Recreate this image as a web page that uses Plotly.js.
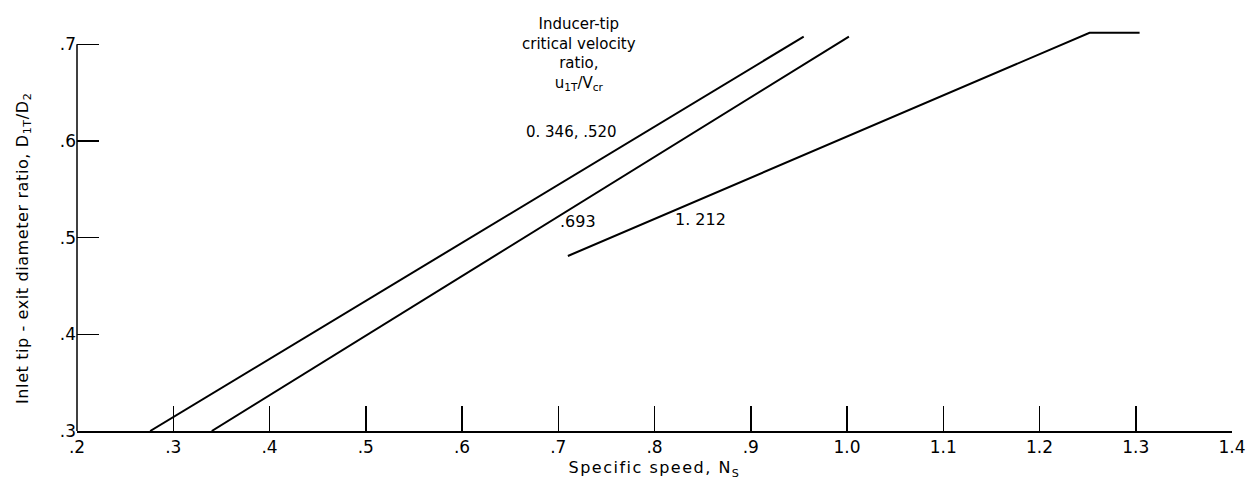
<!DOCTYPE html>
<html>
<head>
<meta charset="utf-8">
<script src="https://cdn.plot.ly/plotly-3.0.1.min.js"></script>
<style>
html,body{margin:0;padding:0;background:#fff;}
#chart{width:1249px;height:483px;}
.xtitle { letter-spacing:1.5px; }
g.annotation[data-index="0"] text { letter-spacing:0.6px; }
</style>
</head>
<body>
<div id="chart"></div>
<script>
// Specific speed (x) and inlet tip-exit diameter ratio (y) for each curve
const ns_346_520 = [0.276, 0.955];
const d_346_520  = [0.300, 0.708];
const ns_693 = [0.340, 1.002];
const d_693  = [0.300, 0.708];
const ns_1212 = [0.710, 1.252, 1.304];
const d_1212  = [0.481, 0.712, 0.712];

const xTickVals = [0.2,0.3,0.4,0.5,0.6,0.7,0.8,0.9,1.0,1.1,1.2,1.3,1.4];
const xTickText = [".2",".3",".4",".5",".6",".7",".8",".9","1.0","1.1","1.2","1.3","1.4"];
const yTickVals = [0.3,0.4,0.5,0.6,0.7];
const yTickText = [".3",".4",".5",".6",".7"];

const FONT = "'DejaVu Sans','Liberation Sans',sans-serif";
const lineStyle = {color:'#000', width:2};

const traces = [
  {x: ns_346_520, y: d_346_520, mode:'lines', line: lineStyle, name:'0.346, .520', hoverinfo:'skip'},
  {x: ns_693, y: d_693, mode:'lines', line: lineStyle, name:'.693', hoverinfo:'skip'},
  {x: ns_1212, y: d_1212, mode:'lines', line: lineStyle, name:'1.212', hoverinfo:'skip'}
];

const layout = {
  width:1249, height:483,
  margin:{l:77, r:17, t:25, b:52},
  paper_bgcolor:'#fff', plot_bgcolor:'#fff',
  showlegend:false,
  font:{family:FONT, size:16, color:'#000'},
  xaxis:{
    range:[0.2,1.4], showgrid:false, zeroline:false,
    showline:true, linecolor:'#000', linewidth:1.5,
    ticks:'inside', ticklen:25, tickwidth:1.5, tickcolor:'#000',
    tickvals:xTickVals, ticktext:xTickText,
    tickfont:{family:FONT, size:17},
    title:{text:'Specific speed, N<sub>S</sub>', font:{family:FONT, size:16}, standoff:6},
    automargin:false
  },
  yaxis:{
    range:[0.3,0.72], showgrid:false, zeroline:false,
    showline:false,
    ticks:'inside', ticklen:22, tickwidth:1.5, tickcolor:'#000',
    tickvals:yTickVals, ticktext:yTickText,
    tickfont:{family:FONT, size:17},
    automargin:false
  },
  shapes:[
    {type:'line', xref:'paper', yref:'y', x0:0, x1:0, y0:0.3, y1:0.7, line:{color:'#000', width:1.5}}
  ],
  annotations:[
    {x:-0.0468, y:0.45, xref:'paper', yref:'paper', showarrow:false, textangle:-90,
     xanchor:'center', yanchor:'middle',
     text:'Inlet tip - exit diameter ratio, D<sub>1T</sub>/D<sub>2</sub>', font:{family:FONT, size:16}},
    {x:0.722, y:1.03, xref:'x', yref:'paper', showarrow:false, align:'center', yanchor:'top',
     text:'Inducer-tip<br>critical velocity<br>ratio,<br>u<sub>1T</sub>/V<sub>cr</sub>', font:{family:FONT, size:15}},
    {x:0.714, y:0.609, xref:'x', yref:'y', showarrow:false, text:'0. 346, .520', font:{family:FONT, size:15}},
    {x:0.72, y:0.517, xref:'x', yref:'y', showarrow:false, text:'.693', font:{family:FONT, size:16}},
    {x:0.848, y:0.519, xref:'x', yref:'y', showarrow:false, text:'1. 212', font:{family:FONT, size:16}}
  ]
};

Plotly.newPlot('chart', traces, layout, {staticPlot:true, displayModeBar:false});
</script>
</body>
</html>
